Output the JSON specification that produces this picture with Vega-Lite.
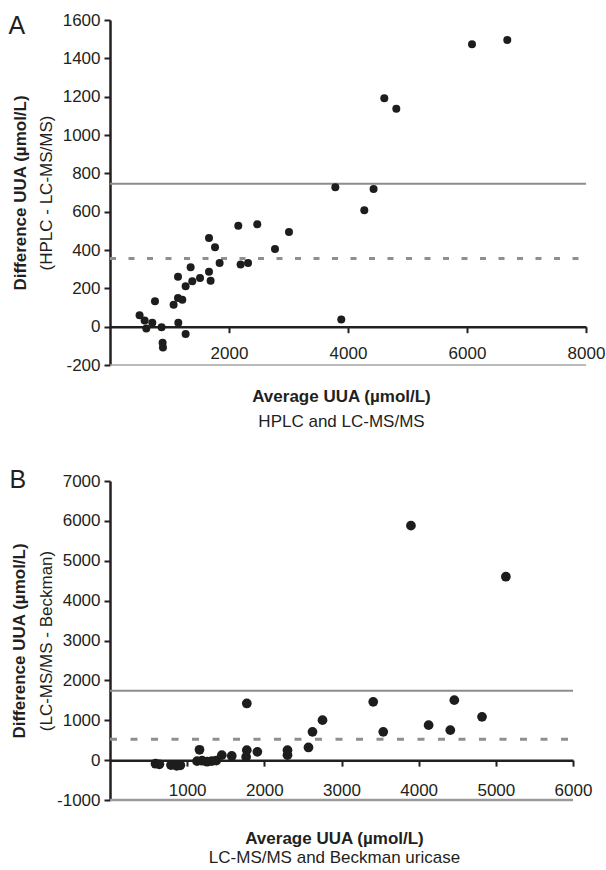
{
  "$schema": "https://vega.github.io/schema/vega-lite/v6.json",
  "padding": {"left": 8, "top": 11, "right": 0, "bottom": 0},
  "config": {
    "view": {"stroke": null},
    "font": "Liberation Sans",
    "axis": {"grid": false, "labelFont": "Liberation Sans", "titleFont": "Liberation Sans", "labelColor": "#231f20", "titleColor": "#231f20", "tickColor": "#231f20", "domainColor": "#231f20", "labelFontSize": 17, "titleFontSize": 17, "labelFlush": false, "labelExpr": "'' + datum.value"}
  },
  "spacing": 38,
  "vconcat": [
    {
      "width": 476,
      "height": 345,
      "layer": [
        {
          "data": {"values": [{"xs": 0, "xe": 8000, "diff": -200}]},
          "mark": {"type": "rule", "color": "#a3a3a3", "strokeWidth": 1.5},
          "encoding": {
            "x": {"field": "xs", "type": "quantitative", "scale": {"domain": [0, 8000], "nice": false, "zero": false},
              "axis": {"orient": "bottom", "title": "HPLC and LC-MS/MS", "titleFontWeight": "normal", "labels": false, "ticks": false, "domain": false, "titlePadding": 48, "titleX": 231}},
            "x2": {"field": "xe"},
            "y": {"field": "diff", "type": "quantitative", "scale": {"domain": [-200, 1600], "nice": false, "zero": false},
              "axis": {"orient": "left", "title": "(HPLC - LC-MS/MS)", "titleFontWeight": "normal", "labels": false, "ticks": false, "domain": false, "titlePadding": 55}}
          }
        },
        {
          "data": {"values": [{"xs": 0, "xe": 8000, "diff": 746}]},
          "mark": {"type": "rule", "color": "#8c8c8c", "strokeWidth": 2},
          "encoding": {
            "x": {"field": "xs", "type": "quantitative", "axis": null},
            "x2": {"field": "xe"},
            "y": {"field": "diff", "type": "quantitative",
              "axis": {"orient": "left", "title": "A", "labels": false, "ticks": false, "domain": false, "titleAngle": 0, "titleAlign": "left", "titleBaseline": "alphabetic", "titleX": -102, "titleY": 13, "titleFontSize": 25, "titleFontWeight": "normal"}}
          }
        },
        {
          "data": {"values": [{"xs": 0, "xe": 8000, "diff": 356}]},
          "mark": {"type": "rule", "color": "#8f8f8f", "strokeWidth": 3, "strokeDash": [6, 12.5]},
          "encoding": {
            "x": {"field": "xs", "type": "quantitative", "axis": null},
            "x2": {"field": "xe"},
            "y": {"field": "diff", "type": "quantitative", "axis": null}
          }
        },
        {
          "data": {"values": [
            {"avg": 497, "diff": 59}, {"avg": 582, "diff": 32}, {"avg": 610, "diff": -10}, {"avg": 711, "diff": 20},
            {"avg": 756, "diff": 132}, {"avg": 867, "diff": -3}, {"avg": 884, "diff": -84}, {"avg": 890, "diff": -109},
            {"avg": 1069, "diff": 115}, {"avg": 1143, "diff": 261}, {"avg": 1148, "diff": 20}, {"avg": 1143, "diff": 150},
            {"avg": 1215, "diff": 141}, {"avg": 1271, "diff": -38}, {"avg": 1271, "diff": 211}, {"avg": 1355, "diff": 310},
            {"avg": 1383, "diff": 237}, {"avg": 1513, "diff": 254}, {"avg": 1664, "diff": 463}, {"avg": 1664, "diff": 286},
            {"avg": 1691, "diff": 240}, {"avg": 1765, "diff": 414}, {"avg": 1842, "diff": 332}, {"avg": 2156, "diff": 527},
            {"avg": 2195, "diff": 324}, {"avg": 2320, "diff": 332}, {"avg": 2475, "diff": 534}, {"avg": 2773, "diff": 405},
            {"avg": 3008, "diff": 494}, {"avg": 3787, "diff": 727}, {"avg": 3887, "diff": 37}, {"avg": 4274, "diff": 607},
            {"avg": 4430, "diff": 718}, {"avg": 4610, "diff": 1192}, {"avg": 4812, "diff": 1137}, {"avg": 6084, "diff": 1474},
            {"avg": 6677, "diff": 1496}
          ]},
          "mark": {"type": "circle", "color": "#1d1d1b", "opacity": 1, "size": 64},
          "encoding": {
            "x": {"field": "avg", "type": "quantitative",
              "axis": {"orient": "bottom", "offset": -38.33, "values": [2000, 4000, 6000, 8000], "tickSize": 6, "tickWidth": 2, "domainWidth": 2.5, "labelPadding": 13, "title": "Average UUA (µmol/L)", "titleFontWeight": "bold", "titlePadding": 27, "titleX": 231}},
            "y": {"field": "diff", "type": "quantitative",
              "axis": {"orient": "left", "values": [-200, 0, 200, 400, 600, 800, 1000, 1200, 1400, 1600], "tickSize": 6, "tickWidth": 2, "domainWidth": 2.5, "labelPadding": 4, "title": "Difference UUA (µmol/L)", "titleFontWeight": "bold", "titlePadding": 33}}
          }
        }
      ],
      "resolve": {"axis": {"x": "independent", "y": "independent"}}
    },
    {
      "width": 463,
      "height": 319,
      "layer": [
        {
          "data": {"values": [{"xs": 0, "xe": 6000, "diff": -1000}]},
          "mark": {"type": "rule", "color": "#9a9a9a", "strokeWidth": 2.5},
          "encoding": {
            "x": {"field": "xs", "type": "quantitative", "scale": {"domain": [0, 6000], "nice": false, "zero": false},
              "axis": {"orient": "bottom", "title": "LC-MS/MS and Beckman uricase", "titleFontWeight": "normal", "labels": false, "ticks": false, "domain": false, "titlePadding": 49, "titleX": 224}},
            "x2": {"field": "xe"},
            "y": {"field": "diff", "type": "quantitative", "scale": {"domain": [-1000, 7000], "nice": false, "zero": false},
              "axis": {"orient": "left", "title": "(LC-MS/MS - Beckman)", "titleFontWeight": "normal", "labels": false, "ticks": false, "domain": false, "titlePadding": 55}}
          }
        },
        {
          "data": {"values": [{"xs": 0, "xe": 6000, "diff": 1740}]},
          "mark": {"type": "rule", "color": "#8c8c8c", "strokeWidth": 1.8},
          "encoding": {
            "x": {"field": "xs", "type": "quantitative", "axis": null},
            "x2": {"field": "xe"},
            "y": {"field": "diff", "type": "quantitative",
              "axis": {"orient": "left", "title": "B", "labels": false, "ticks": false, "domain": false, "titleAngle": 0, "titleAlign": "left", "titleBaseline": "alphabetic", "titleX": -101, "titleY": 6, "titleFontSize": 25, "titleFontWeight": "normal"}}
          }
        },
        {
          "data": {"values": [{"xs": 0, "xe": 6000, "diff": 525}]},
          "mark": {"type": "rule", "color": "#8f8f8f", "strokeWidth": 3, "strokeDash": [7, 13.5]},
          "encoding": {
            "x": {"field": "xs", "type": "quantitative", "axis": null},
            "x2": {"field": "xe"},
            "y": {"field": "diff", "type": "quantitative", "axis": null}
          }
        },
        {
          "data": {"values": [
            {"avg": 590, "diff": -90}, {"avg": 640, "diff": -105}, {"avg": 790, "diff": -125}, {"avg": 865, "diff": -145},
            {"avg": 912, "diff": -130}, {"avg": 1160, "diff": 260}, {"avg": 1128, "diff": -25}, {"avg": 1193, "diff": -15},
            {"avg": 1258, "diff": -40}, {"avg": 1319, "diff": -25}, {"avg": 1378, "diff": -10}, {"avg": 1449, "diff": 125},
            {"avg": 1578, "diff": 105}, {"avg": 1773, "diff": 250}, {"avg": 1764, "diff": 80}, {"avg": 1910, "diff": 208},
            {"avg": 1773, "diff": 1421}, {"avg": 2300, "diff": 250}, {"avg": 2300, "diff": 125}, {"avg": 2572, "diff": 318},
            {"avg": 2624, "diff": 709}, {"avg": 2754, "diff": 1002}, {"avg": 3411, "diff": 1461}, {"avg": 3541, "diff": 709},
            {"avg": 4129, "diff": 877}, {"avg": 4410, "diff": 752}, {"avg": 4462, "diff": 1504}, {"avg": 4821, "diff": 1085},
            {"avg": 3900, "diff": 5880}, {"avg": 5130, "diff": 4600}
          ]},
          "mark": {"type": "circle", "color": "#1d1d1b", "opacity": 1, "size": 95},
          "encoding": {
            "x": {"field": "avg", "type": "quantitative",
              "axis": {"orient": "bottom", "offset": -39.875, "values": [1000, 2000, 3000, 4000, 5000, 6000], "tickSize": 6, "tickWidth": 2, "domainWidth": 2.5, "labelPadding": 16, "title": "Average UUA (µmol/L)", "titleFontWeight": "bold", "titlePadding": 32, "titleX": 224}},
            "y": {"field": "diff", "type": "quantitative",
              "axis": {"orient": "left", "values": [-1000, 0, 1000, 2000, 3000, 4000, 5000, 6000, 7000], "tickSize": 6, "tickWidth": 2, "domainWidth": 2.5, "labelPadding": 4, "title": "Difference UUA (µmol/L)", "titleFontWeight": "bold", "titlePadding": 28}}
          }
        }
      ],
      "resolve": {"axis": {"x": "independent", "y": "independent"}}
    }
  ]
}
